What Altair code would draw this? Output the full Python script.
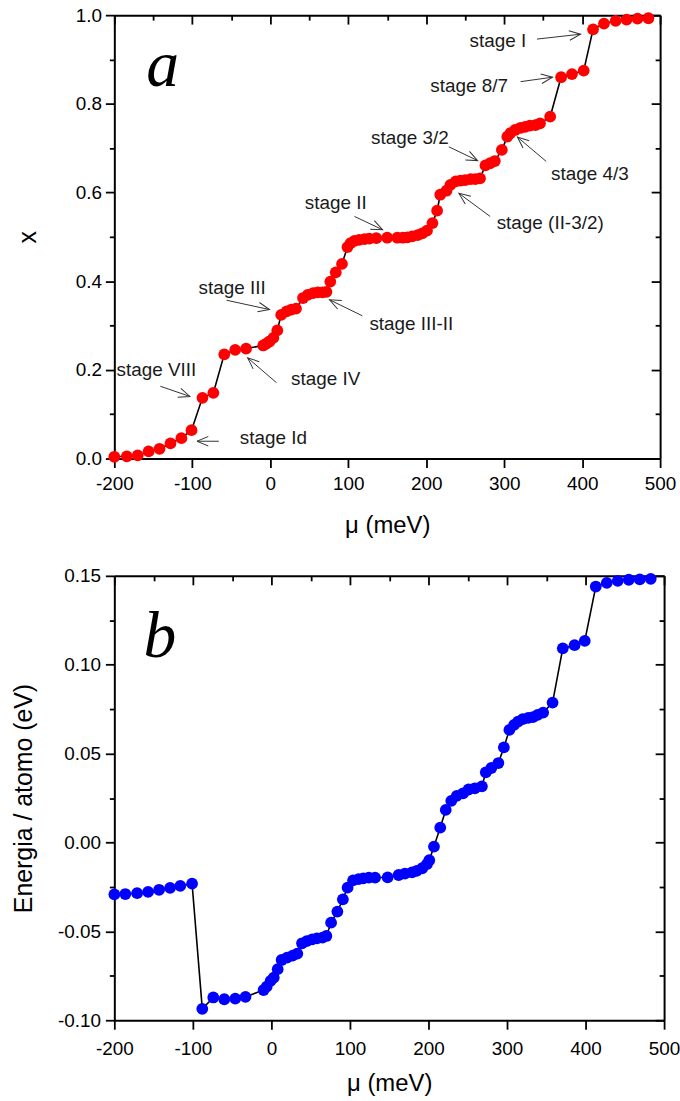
import math
import altair as alt
import pandas as pd

# ---------------- panel a: filling fraction x against chemical potential ----------------
mu_a = [-200, -184, -170, -156, -142, -128, -114, -101,
        -87, -73, -59, -45, -31,
        -9, -5, -1, 4, 9,
        14, 21, 27, 33,
        42, 48, 55, 61, 67, 72,
        77, 84, 92, 99, 103, 108, 114, 121, 127, 136,
        150, 163, 170, 176, 182, 189, 195, 201, 208, 214, 218,
        226, 231, 238, 244, 250, 257, 263, 269,
        276, 282, 288, 297,
        304, 308, 314, 321, 327, 333, 340, 346, 359,
        373, 387, 402,
        414, 428, 443, 457, 471, 485]
x_a = [0.004, 0.005, 0.007, 0.016, 0.022, 0.034, 0.046, 0.064,
       0.137, 0.148, 0.235, 0.245, 0.248,
       0.255, 0.259, 0.264, 0.272, 0.289,
       0.324, 0.332, 0.336, 0.338,
       0.362, 0.369, 0.373, 0.375, 0.375, 0.376,
       0.399, 0.420, 0.439, 0.477, 0.486, 0.491, 0.493, 0.495, 0.496, 0.497,
       0.498, 0.498, 0.498, 0.499, 0.501, 0.504, 0.508, 0.514, 0.531, 0.559, 0.595,
       0.604, 0.617, 0.625, 0.627, 0.628, 0.630, 0.630, 0.632,
       0.661, 0.666, 0.671, 0.696,
       0.726, 0.734, 0.741, 0.746, 0.748, 0.751, 0.752, 0.756, 0.771,
       0.860, 0.867, 0.875,
       0.968, 0.981, 0.987, 0.990, 0.992, 0.993]

# stage labels with their arrows (text anchor, arrow tail, arrow head) in data units
stage_names = ["stage I", "stage 8/7", "stage 3/2", "stage 4/3", "stage II",
               "stage (II-3/2)", "stage III", "stage III-II", "stage VIII",
               "stage IV", "stage Id"]
stage_mu = [292, 255, 179, 410, 84, 359, -49, 181, -146, 71, 4]
stage_x = [0.942, 0.840, 0.723, 0.642, 0.577, 0.532, 0.385, 0.304, 0.199, 0.180, 0.047]
tail_mu = [342, 321, 229, 354, 108, 282, -56, 118, -141, 8, -66]
tail_x = [0.946, 0.850, 0.703, 0.670, 0.546, 0.546, 0.357, 0.322, 0.163, 0.171, 0.039]
head_mu = [398, 362, 266, 317, 144, 242, -1, 76, -103, -29, -94]
head_x = [0.957, 0.860, 0.672, 0.725, 0.516, 0.598, 0.336, 0.358, 0.140, 0.227, 0.039]

# ---------------- panel b: energy per atom against chemical potential ----------------
mu_b = [-200, -186, -171, -157, -143, -129, -116, -101,
        -88, -74, -60, -46, -33,
        -10, -6, -1, 3, 8, 13, 20, 27, 33,
        39, 45, 52, 58, 65, 70,
        76, 84, 91, 97, 104, 111, 117, 124, 132,
        148, 162, 170, 179, 185, 192, 198, 201, 207, 215, 222,
        229, 236, 244, 251, 259, 268,
        273, 280, 289, 296, 303, 309, 314, 320, 327, 333, 339, 346, 358,
        371, 386, 399,
        413, 427, 441, 455, 469, 483]
e_b = [-0.0292, -0.0290, -0.0285, -0.0278, -0.0266, -0.0255, -0.0244, -0.0232,
       -0.0936, -0.0872, -0.0882, -0.0878, -0.0869,
       -0.0830, -0.0811, -0.0779, -0.0760, -0.0713, -0.0661, -0.0648, -0.0637, -0.0625,
       -0.0567, -0.0555, -0.0545, -0.0539, -0.0535, -0.0526,
       -0.0451, -0.0389, -0.0320, -0.0254, -0.0213, -0.0206, -0.0202, -0.0198, -0.0198,
       -0.0196, -0.0183, -0.0175, -0.0168, -0.0160, -0.0145, -0.0122, -0.0100, -0.0023, 0.0084, 0.0183,
       0.0234, 0.0262, 0.0276, 0.0298, 0.0305, 0.0316,
       0.0395, 0.0419, 0.0447, 0.0535, 0.0633, 0.0662, 0.0680, 0.0694, 0.0701, 0.0705, 0.0718, 0.0731, 0.0787,
       0.1092, 0.1110, 0.1134,
       0.1440, 0.1460, 0.1472, 0.1478, 0.1480, 0.1483]

# ---------------- layout / style ----------------
W_A, H_A = 549, 446
W_B, H_B = 553, 447
MU_DOMAIN = [-200, 500]
FONT = "Liberation Sans"
TICK_MAJOR, TICK_MINOR = 9, 5
MINUS = "\u2212"
DOT = 140

df_a = pd.DataFrame({"mu": mu_a, "x": x_a})
df_b = pd.DataFrame({"mu": mu_b, "e": e_b})

x_ticks = list(range(-200, 501, 50))
ya_ticks = [round(i * 0.1, 3) for i in range(0, 11)]
yb_ticks = [round(-0.1 + i * 0.025, 4) for i in range(0, 11)]

major_mu = "datum.value % 100 === 0"
major_ya = "round(datum.value * 10) % 2 === 0"
major_yb = "round(datum.value * 40) % 2 === 0"


def tick_size(test):
    return {"condition": {"test": test, "value": TICK_MAJOR}, "value": TICK_MINOR}


def main_axis(values, test, fmt, title, label_pad, title_pad):
    return alt.Axis(values=values, format=fmt, title=title,
                    labelExpr=f"({test}) ? replace(datum.label, '{MINUS}', '-') : ''",
                    tickSize=tick_size(test), labelPadding=label_pad,
                    titlePadding=title_pad, grid=False)


def mirror_axis(values, test, orient, offset):
    # second copy of an axis moved onto the opposite edge, ticks pointing inwards
    return alt.Axis(values=values, orient=orient, offset=offset, labels=False,
                    title=None, tickSize=tick_size(test), grid=False)


def arrows(xs, ys, px_per_x, px_per_y):
    t = pd.DataFrame({"label": stage_names, "tx": stage_mu, "ty": stage_x,
                      "ax": tail_mu, "ay": tail_x, "hx": head_mu, "hy": head_x})
    ang = []
    for a, b, c, d in zip(tail_mu, tail_x, head_mu, head_x):
        dx = (c - a) * px_per_x
        dy = -(d - b) * px_per_y
        ang.append(math.degrees(math.atan2(dy, dx)) % 360)
    t["angle"] = ang
    base = alt.Chart(t)
    shaft = base.mark_rule(color="#333333", strokeWidth=1).encode(
        x=alt.X("ax:Q", scale=xs), y=alt.Y("ay:Q", scale=ys),
        x2="hx:Q", y2="hy:Q")
    head = base.mark_point(shape="M-1,-0.42L0,0L-1,0.42", filled=False, color="#333333",
                           strokeWidth=1, size=520, opacity=1).encode(
        x=alt.X("hx:Q", scale=xs), y=alt.Y("hy:Q", scale=ys),
        angle=alt.Angle("angle:Q", scale=None))
    text = base.mark_text(font=FONT, fontSize=19, color="#1a1a1a").encode(
        x=alt.X("tx:Q", scale=xs), y=alt.Y("ty:Q", scale=ys), text="label:N")
    return [shaft, head, text]


# ---------------- panel a ----------------
xs_a = alt.Scale(domain=MU_DOMAIN, nice=False, zero=False)
ys_a = alt.Scale(domain=[0, 1], nice=False, zero=False)

base_a = alt.Chart(df_a)
line_a = base_a.mark_line(color="black", strokeWidth=1.6).encode(
    x=alt.X("mu:Q", scale=xs_a,
            axis=main_axis(x_ticks, major_mu, "d", "\u03bc (meV)", 7, 20)),
    y=alt.Y("x:Q", scale=ys_a,
            axis=main_axis(ya_ticks, major_ya, ".1f", "x", 4, 35)))
pts_a = base_a.mark_circle(size=DOT, color="#ff0000", opacity=1).encode(
    x=alt.X("mu:Q", scale=xs_a), y=alt.Y("x:Q", scale=ys_a))
tag_a = alt.Chart(pd.DataFrame({"t": ["a"], "mu": [-138], "x": [0.84]})).mark_text(
    font="Liberation Serif", fontStyle="italic", fontSize=66, baseline="alphabetic",
    color="black").encode(x=alt.X("mu:Q", scale=xs_a), y=alt.Y("x:Q", scale=ys_a), text="t:N")

inner_a = alt.layer(line_a, pts_a, tag_a, *arrows(xs_a, ys_a, W_A / 700, H_A / 1.0))
mirror_a = base_a.mark_point(opacity=0).encode(
    x=alt.X("mu:Q", scale=xs_a, axis=mirror_axis(x_ticks, major_mu, "bottom", -H_A)),
    y=alt.Y("x:Q", scale=ys_a, axis=mirror_axis(ya_ticks, major_ya, "left", -W_A)))
panel_a = alt.layer(inner_a, mirror_a).resolve_scale(
    x="independent", y="independent").properties(width=W_A, height=H_A)

# ---------------- panel b ----------------
xs_b = alt.Scale(domain=MU_DOMAIN, nice=False, zero=False)
ys_b = alt.Scale(domain=[-0.1, 0.15], nice=False, zero=False)

base_b = alt.Chart(df_b)
line_b = base_b.mark_line(color="black", strokeWidth=1.6).encode(
    x=alt.X("mu:Q", scale=xs_b,
            axis=main_axis(x_ticks, major_mu, "d", "\u03bc (meV)", 10, 14)),
    y=alt.Y("e:Q", scale=ys_b,
            axis=main_axis(yb_ticks, major_yb, ".2f", "Energia / atomo (eV)", 5, 21)))
pts_b = base_b.mark_circle(size=DOT, color="#0000ff", opacity=1).encode(
    x=alt.X("mu:Q", scale=xs_b), y=alt.Y("e:Q", scale=ys_b))
tag_b = alt.Chart(pd.DataFrame({"t": ["b"], "mu": [-142], "e": [0.1045]})).mark_text(
    font="Liberation Serif", fontStyle="italic", fontSize=66, baseline="alphabetic",
    color="black").encode(x=alt.X("mu:Q", scale=xs_b), y=alt.Y("e:Q", scale=ys_b), text="t:N")

inner_b = alt.layer(line_b, pts_b, tag_b)
mirror_b = base_b.mark_point(opacity=0).encode(
    x=alt.X("mu:Q", scale=xs_b, axis=mirror_axis(x_ticks, major_mu, "bottom", -H_B)),
    y=alt.Y("e:Q", scale=ys_b, axis=mirror_axis(yb_ticks, major_yb, "left", -W_B)))
panel_b = alt.layer(inner_b, mirror_b).resolve_scale(
    x="independent", y="independent").properties(width=W_B, height=H_B)

chart = alt.vconcat(panel_a, panel_b, spacing=30).properties(
    padding={"left": 11, "top": 3, "right": 0, "bottom": 0},
    background="white",
).configure_view(stroke=None).configure_axis(
    labelFont=FONT, labelFontSize=19, labelColor="black",
    titleFont=FONT, titleFontSize=24, titleFontWeight="normal", titleColor="black",
    domainColor="black", domainWidth=2, tickColor="black", tickWidth=1.8,
    labelFlush=False, labelOverlap=False,
).configure_axisLeft(titleFontSize=25)

chart.save("out.html", embed_options={"renderer": "svg", "actions": False})
